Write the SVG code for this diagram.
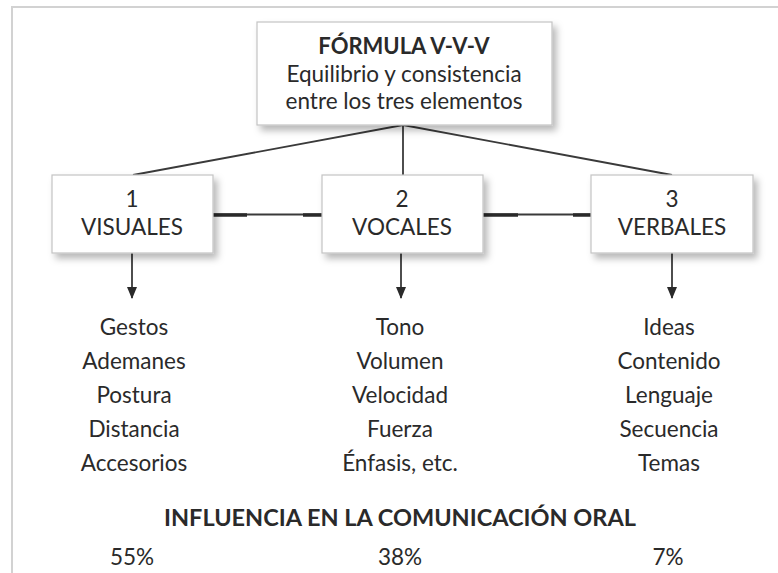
<svg xmlns="http://www.w3.org/2000/svg" width="778" height="573" viewBox="0 0 778 573">
<style>
  .box { fill: #ffffff; stroke: #c4c4c4; stroke-width: 1.2; filter: url(#sh); }
  .t { font-family: Lato, "Open Sans", sans-serif; font-size: 22.5px; fill: #2a2a2a; text-anchor: middle; }
  .b { font-weight: bold; }
  .ln { stroke: #3a3a3a; stroke-width: 1.8; fill: none; }
  .thk { stroke: #2a2a2a; stroke-width: 3.6; fill: none; }
  .frame { stroke: #d2d2d2; stroke-width: 2; fill: none; }
</style>
<defs>
  <filter id="sh" x="-10%" y="-10%" width="130%" height="140%">
    <feDropShadow dx="4" dy="5" stdDeviation="3.5" flood-color="#000" flood-opacity="0.28"/>
  </filter>
  <marker id="ah" viewBox="0 0 12 10" refX="11" refY="5" markerWidth="12" markerHeight="10" markerUnits="userSpaceOnUse" orient="auto">
    <path d="M0,0 L12,5 L0,10 Z" fill="#2a2a2a"/>
  </marker>
</defs>
<rect width="778" height="573" fill="#ffffff"/>
<path class="frame" d="M12,573 L12,7 L778,7"/>

<g id="connectors">
  <path class="ln" d="M403,125 L133,175"/>
  <path class="ln" d="M403,125 L403,175"/>
  <path class="ln" d="M403,125 L672,175"/>
  <path class="ln" d="M213,214.5 L322,214.5"/>
  <path class="thk" d="M213,215 L247,215 M303,215 L322,215"/>
  <path class="ln" d="M483,214.5 L591,214.5"/>
  <path class="thk" d="M483,215 L518,215 M573,215 L591,215"/>
  <path class="ln" d="M132,253 L132,298" marker-end="url(#ah)"/>
  <path class="ln" d="M401,253 L401,298" marker-end="url(#ah)"/>
  <path class="ln" d="M672,253 L672,298" marker-end="url(#ah)"/>
</g>

<g id="top">
  <rect class="box" x="257" y="22" width="295" height="103"/>
  <text class="t b" x="404" y="54" style="font-size:22px">FÓRMULA V-V-V</text>
  <text class="t" x="404" y="82">Equilibrio y consistencia</text>
  <text class="t" x="404" y="109">entre los tres elementos</text>
</g>

<g id="visuales">
  <rect class="box" x="52" y="175" width="161" height="78"/>
  <text class="t" x="132" y="207">1</text>
  <text class="t" x="132" y="235">VISUALES</text>
</g>

<g id="vocales">
  <rect class="box" x="322" y="175" width="161" height="78"/>
  <text class="t" x="402" y="207">2</text>
  <text class="t" x="402" y="235">VOCALES</text>
</g>

<g id="verbales">
  <rect class="box" x="591" y="175" width="162" height="78"/>
  <text class="t" x="672" y="207">3</text>
  <text class="t" x="672" y="235">VERBALES</text>
</g>

<g id="list-visuales">
  <text class="t" x="134" y="335">Gestos</text>
  <text class="t" x="134" y="369">Ademanes</text>
  <text class="t" x="134" y="403">Postura</text>
  <text class="t" x="134" y="437">Distancia</text>
  <text class="t" x="134" y="471">Accesorios</text>
</g>

<g id="list-vocales">
  <text class="t" x="400" y="335">Tono</text>
  <text class="t" x="400" y="369">Volumen</text>
  <text class="t" x="400" y="403">Velocidad</text>
  <text class="t" x="400" y="437">Fuerza</text>
  <text class="t" x="400" y="471">Énfasis, etc.</text>
</g>

<g id="list-verbales">
  <text class="t" x="669" y="335">Ideas</text>
  <text class="t" x="669" y="369">Contenido</text>
  <text class="t" x="669" y="403">Lenguaje</text>
  <text class="t" x="669" y="437">Secuencia</text>
  <text class="t" x="669" y="471">Temas</text>
</g>

<g id="influencia">
  <text class="t b" x="400" y="526" style="font-size:23.5px">INFLUENCIA EN LA COMUNICACIÓN ORAL</text>
  <text class="t" x="132" y="565">55%</text>
  <text class="t" x="400" y="565">38%</text>
  <text class="t" x="668" y="565">7%</text>
</g>
</svg>
